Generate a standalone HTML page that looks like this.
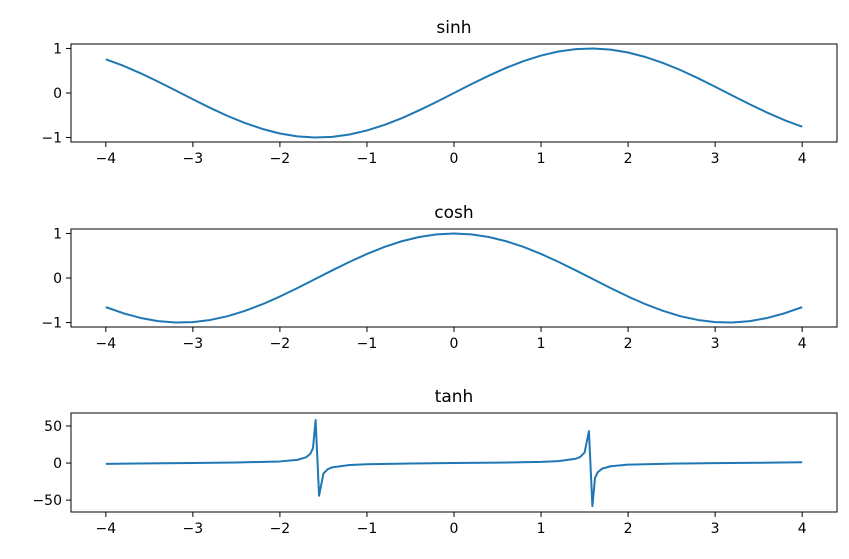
<!DOCTYPE html>
<html><head><meta charset="utf-8"><style>
body{margin:0;background:#fff;}
svg{display:block;font-family:"DejaVu Sans","Liberation Sans",sans-serif;}
</style></head><body>
<svg id="chart" width="849" height="559" xmlns="http://www.w3.org/2000/svg"></svg>
<script>
const xTicks = [-4,-3,-2,-1,0,1,2,3,4];
const xTickLabels = ["\u22124","\u22123","\u22122","\u22121","0","1","2","3","4"];
const xs = [-4,-3.8,-3.6,-3.4,-3.2,-3,-2.8,-2.6,-2.4,-2.2,-2,-1.8,-1.6,-1.4,-1.2,-1,-0.8,-0.6,-0.4,-0.2,0,0.2,0.4,0.6,0.8,1,1.2,1.4,1.6,1.8,2,2.2,2.4,2.6,2.8,3,3.2,3.4,3.6,3.8,4];
const sinVals = [0.757,0.612,0.443,0.256,0.058,-0.141,-0.335,-0.516,-0.675,-0.808,-0.909,-0.974,-1.0,-0.985,-0.932,-0.841,-0.717,-0.565,-0.389,-0.199,0,0.199,0.389,0.565,0.717,0.841,0.932,0.985,1.0,0.974,0.909,0.808,0.675,0.516,0.335,0.141,-0.058,-0.256,-0.443,-0.612,-0.757];
const cosVals = [-0.654,-0.791,-0.897,-0.967,-0.998,-0.990,-0.942,-0.857,-0.737,-0.589,-0.416,-0.227,-0.029,0.170,0.362,0.540,0.697,0.825,0.921,0.980,1,0.980,0.921,0.825,0.697,0.540,0.362,0.170,-0.029,-0.227,-0.416,-0.589,-0.737,-0.857,-0.942,-0.990,-0.998,-0.967,-0.897,-0.791,-0.654];
const tanXs = [-4,-3.5,-3,-2.5,-2,-1.8,-1.7,-1.65,-1.62,-1.59,-1.55,-1.5,-1.45,-1.4,-1.2,-1,-0.5,0,0.5,1,1.2,1.4,1.45,1.5,1.55,1.59,1.62,1.65,1.7,1.8,2,2.5,3,3.5,4];
const tanVals = [-1.158,-0.375,0.143,0.747,2.185,4.29,7.7,12.6,20,58,-44,-14.1,-8.24,-5.8,-2.57,-1.557,-0.546,0,0.546,1.557,2.57,5.8,8.24,14.1,43,-58,-20,-12.6,-7.7,-4.29,-2.185,-0.747,-0.143,0.375,1.158];
const sinTicks = [1,0,-1], sinTickLabels = ["1","0","\u22121"];
const tanTicks = [50,0,-50], tanTickLabels = ["50","0","\u221250"];

const svg = document.getElementById('chart');
const NS = 'http://www.w3.org/2000/svg';
function mk(tag, attrs, parent){const e=document.createElementNS(NS,tag);for(const k in attrs)e.setAttribute(k,attrs[k]);(parent||svg).appendChild(e);return e;}
const L=71,R=837,xmin=-4.4,xmax=4.4;
const xScale=v=>L+(v-xmin)/(xmax-xmin)*(R-L);

function panel(name,title,top,bottom,ymin,ymax,px,py,yt,ytl){
  const g=mk('g',{});
  
  
  const yScale=v=>bottom-(v-ymin)/(ymax-ymin)*(bottom-top);
  const t=mk('text',{x:(L+R)/2,y:top-11,'text-anchor':'middle','font-size':'17',fill:'#000'},g);
  t.textContent=title;
  
  
  xTicks.forEach((v,i)=>{
    const x=xScale(v);
    mk('line',{x1:x,x2:x,y1:bottom,y2:bottom+5,stroke:'#000','stroke-width':1},g);
    const tx=mk('text',{x:x,y:bottom+21,'text-anchor':'middle','font-size':'14'},g);
    tx.textContent=xTickLabels[i];
    
    
  });
  yt.forEach((v,i)=>{
    const y=yScale(v);
    mk('line',{x1:L-5,x2:L,y1:y,y2:y,stroke:'#000','stroke-width':1},g);
    const ty=mk('text',{x:L-9,y:y+5,'text-anchor':'end','font-size':'14'},g);
    ty.textContent=ytl[i];
    
    
  });
  const cp=mk('clipPath',{id:'clip-'+name},g);
  mk('rect',{x:L,y:top,width:R-L,height:bottom-top},cp);
  const pts=px.map((v,i)=>xScale(v).toFixed(2)+','+yScale(py[i]).toFixed(2)).join(' ');
  const pl=mk('polyline',{points:pts,fill:'none',stroke:'#1f77b4','stroke-width':2,'stroke-linejoin':'round','clip-path':'url(#clip-'+name+')'},g);
  
  
  const fr=mk('rect',{x:L,y:top,width:R-L,height:bottom-top,fill:'none',stroke:'#000','stroke-width':1},g);
  
  
}
panel('sinh','sinh',44,142,-1.1,1.1,xs,sinVals,sinTicks,sinTickLabels);
panel('cosh','cosh',229,327,-1.1,1.1,xs,cosVals,sinTicks,sinTickLabels);
panel('tanh','tanh',413,512,-66,67.5,tanXs,tanVals,tanTicks,tanTickLabels);
</script>
</body></html>
